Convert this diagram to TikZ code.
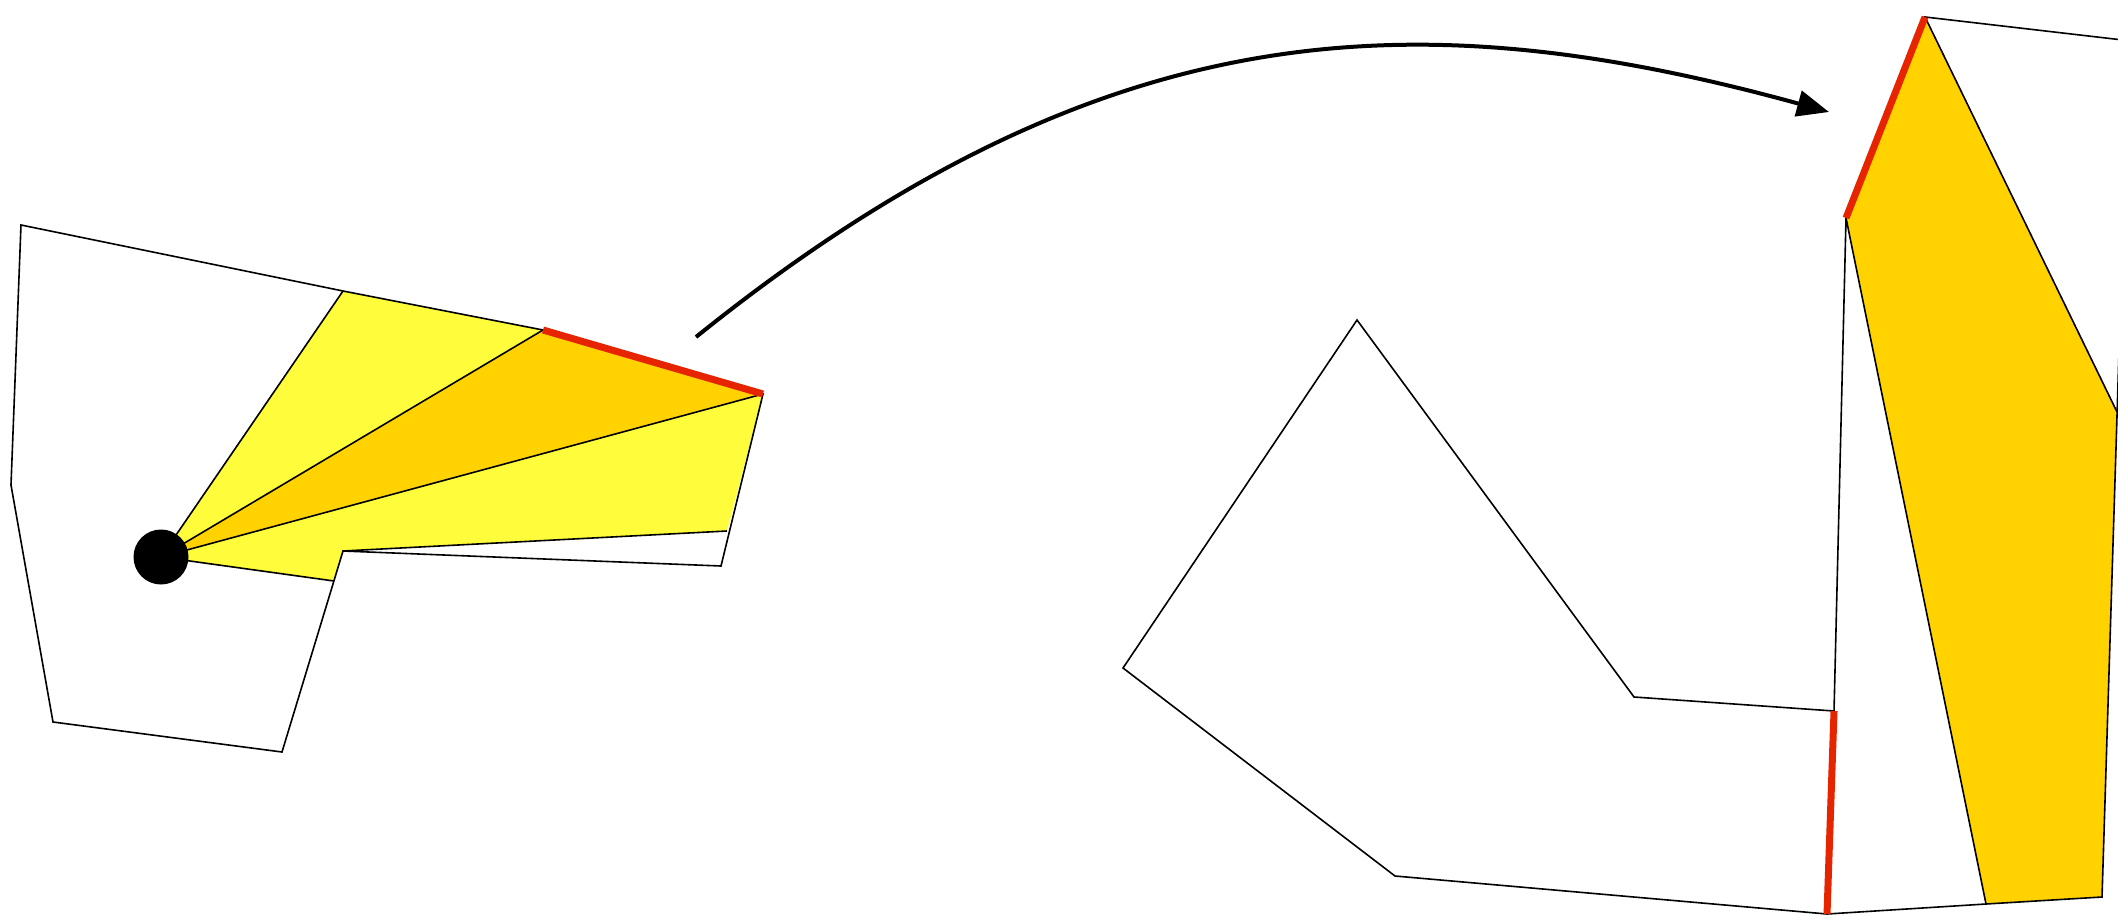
\documentclass[tikz,border=0pt]{standalone}
\usetikzlibrary{arrows.meta}
\definecolor{fanyellow}{RGB}{255,253,59}
\definecolor{fangold}{RGB}{255,210,0}
\definecolor{edgered}{RGB}{230,36,0}
\tikzset{
  thinline/.style={draw=black, line width=0.8pt, line join=miter},
  redline/.style={draw=edgered, line width=3.5pt},
  bigarrow/.style={draw=black, line width=2pt, -{Triangle[length=16pt,width=13pt]}}
}
\begin{document}
\begin{tikzpicture}[x=0.5pt,y=-0.5pt]
\useasboundingbox (0,0) rectangle (2118,915);
% ---- left polygon coordinates
\coordinate (A) at (21,225);
\coordinate (B) at (343,291);
\coordinate (C) at (543,330);
\coordinate (D) at (763,394);
\coordinate (E) at (727,531);
\coordinate (F) at (721,566);
\coordinate (G) at (343,551);
\coordinate (H) at (334,581);
\coordinate (I) at (282,752);
\coordinate (J) at (53,722);
\coordinate (K) at (11,485);
\coordinate (O) at (161,557);
% fan
\fill[fanyellow] (O) -- (B) -- (C) -- (D) -- (E) -- (G) -- (H) -- cycle;
\fill[fangold] (O) -- (C) -- (D) -- cycle;
\draw[thinline] (A) -- (B) -- (C) -- (D) -- (F) -- (G) -- (I) -- (J) -- (K) -- cycle;
\draw[thinline] (O) -- (B);
\draw[thinline] (O) -- (C);
\draw[thinline] (O) -- (D);
\draw[thinline] (E) -- (G);
\draw[thinline] (O) -- (H);
\draw[redline] (C) -- (D);
\fill[black] (O) circle[radius=13.75pt];
% ---- middle polygon
\coordinate (M1) at (1357,320);
\coordinate (M2) at (1634,697);
\coordinate (M3) at (1834,711);
\coordinate (M4) at (1827,914);
\coordinate (M5) at (1395,876);
\coordinate (M6) at (1123,668);
% ---- right part
\coordinate (R1) at (1846,218);
\coordinate (R2) at (1925,17);
\coordinate (R3) at (2117,412);
\coordinate (R4) at (2102,897);
\coordinate (R5) at (1986,904);
\coordinate (Rt) at (2140,42);
\coordinate (Rr) at (2119.5,335);
\fill[fangold] (R1) -- (R2) -- (R3) -- (R4) -- (R5) -- cycle;
\draw[thinline] (M3) -- (M2) -- (M1) -- (M6) -- (M5) -- (M4) -- (R5) -- (R4) -- (Rr);
\draw[thinline] (M3) -- (R1) -- (R5);
\draw[thinline] (Rt) -- (R2) -- (R3);
\draw[redline] (M3) -- (M4);
\draw[redline] (R1) -- (R2);
% ---- arrow
\coordinate (S) at (696,337);
\coordinate (T) at (1829,112);
\draw[bigarrow] (S) .. controls (1101,11) and (1414,-2) .. (T);
\end{tikzpicture}
\end{document}
